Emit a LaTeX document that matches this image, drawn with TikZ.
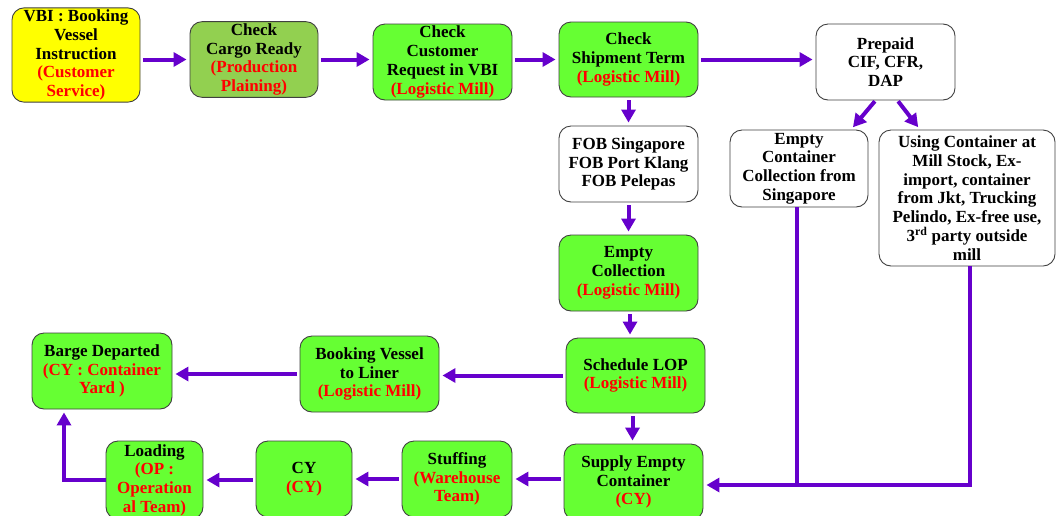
\documentclass[tikz,border=0pt]{standalone}
\usepackage{fontspec}
\setmainfont{Liberation Serif}
\usetikzlibrary{arrows.meta}
\definecolor{boxgreen}{HTML}{66FF33}
\definecolor{boxolive}{HTML}{92D050}
\definecolor{boxyellow}{HTML}{FFFF00}
\definecolor{arrowpurple}{HTML}{6600CC}
\definecolor{txtred}{HTML}{FF0000}
\definecolor{edgegray}{HTML}{404040}
\newcommand{\rd}[1]{\textcolor{txtred}{#1}}
\tikzset{
  flowbox/.style={draw=edgegray, line width=0.9pt, rounded corners=12pt, align=center,
    inner sep=2pt, font=\fontsize{17}{18.7}\selectfont\bfseries},
  greenbox/.style={flowbox, fill=boxgreen},
  whitebox/.style={flowbox, fill=white},
  arr/.style={draw=arrowpurple, line width=4pt, -{Triangle[length=13pt,width=14pt]}, shorten <=3pt, shorten >=3pt},
  pline/.style={draw=arrowpurple, line width=4pt}
}
\begin{document}
\begin{tikzpicture}[x=1pt,y=-1pt]
\useasboundingbox (0,0) rectangle (1056,515);
\clip (0,0) rectangle (1056,515);
\fill[white] (0,0) rectangle (1056,515);

% top row
\node[flowbox, fill=boxyellow, minimum width=128pt, minimum height=91pt] (vbi) at (76,55)
  {VBI : Booking\\Vessel\\Instruction\\\rd{(Customer}\\\rd{Service)}};
\node[flowbox, fill=boxolive, minimum width=128pt, minimum height=75pt] (cargo) at (254,59.5)
  {Check\\Cargo Ready\\\rd{(Production}\\\rd{Plaining)}};
\node[greenbox, minimum width=139pt, minimum height=76pt] (cust) at (442.5,62)
  {Check\\Customer\\Request in VBI\\\rd{(Logistic Mill)}};
\node[greenbox, minimum width=139pt, minimum height=75pt] (ship) at (628.5,59.5)
  {Check\\Shipment Term\\\rd{(Logistic Mill)}};
\node[whitebox, minimum width=139pt, minimum height=76pt] (prep) at (885.5,62)
  {Prepaid\\CIF, CFR,\\DAP};

% second row
\node[whitebox, minimum width=139pt, minimum height=76pt] (fob) at (628.5,164)
  {FOB Singapore\\FOB Port Klang\\FOB Pelepas};
\node[whitebox, minimum width=138pt, minimum height=77pt] (ecs) at (799,168.5)
  {Empty\\Container\\Collection from\\Singapore};
\node[whitebox, minimum width=176pt, minimum height=136pt] (using) at (967,198)
  {Using Container at\\Mill Stock, Ex-\\import, container\\from Jkt, Trucking\\Pelindo, Ex-free use,\\3\textsuperscript{rd} party outside\\mill};

\node[greenbox, minimum width=139pt, minimum height=76pt] (ecoll) at (628.5,273)
  {Empty\\Collection\\\rd{(Logistic Mill)}};

% third row
\node[greenbox, minimum width=139pt, minimum height=75pt] (lop) at (635.5,375.5)
  {Schedule LOP\\\rd{(Logistic Mill)}};
\node[greenbox, minimum width=139pt, minimum height=76pt] (book) at (369.5,374)
  {Booking Vessel\\to Liner\\\rd{(Logistic Mill)}};
\node[greenbox, minimum width=140pt, minimum height=76pt] (barge) at (102,371)
  {Barge Departed\\\rd{(CY : Container}\\\rd{Yard )}};

% bottom row
\node[greenbox, minimum width=139pt, minimum height=76pt] (supply) at (633.5,482)
  {Supply Empty\\Container\\\rd{(CY)}};
\node[greenbox, minimum width=110pt, minimum height=76pt] (stuff) at (457,479)
  {Stuffing\\\rd{(Warehouse}\\\rd{Team)}};
\node[greenbox, minimum width=96pt, minimum height=76pt] (cy) at (304,479)
  {CY\\\rd{(CY)}};
\node[greenbox, minimum width=97pt, minimum height=78pt] (load) at (154.5,480)
  {Loading\\\rd{(OP :}\\\rd{Operation}\\\rd{al Team)}};

% connectors
\draw[arr] (vbi.east |- cargo.west) -- (cargo.west);
\draw[arr] (cargo.east) -- (cargo.east -| cust.west);
\draw[arr] (cust.east |- ship.west) -- (ship.west);
\draw[arr] (ship.east) -- (ship.east -| prep.west);
\draw[arr] (ship.south) -- (fob.north);
\draw[arr] (fob.south) -- (ecoll.north);
\draw[arr] ([xshift=1.5pt]ecoll.south) -- ([xshift=1.5pt]ecoll.south |- lop.north);
\draw[arr, shorten <=1pt] ([xshift=-10pt]prep.south) -- ([xshift=52pt]ecs.north);
\draw[arr, shorten <=1pt] ([xshift=12pt]prep.south) -- ([xshift=-47pt]using.north);
\draw[arr] (lop.west) -- (lop.west -| book.east);
\draw[arr] (book.west) -- (book.west -| barge.east);
\draw[arr] ([xshift=-3pt]lop.south) -- ([xshift=-3pt]lop.south |- supply.north);
\draw[arr] (supply.west |- stuff.east) -- (stuff.east);
\draw[arr] (stuff.west |- cy.east) -- (cy.east);
\draw[arr] (cy.west |- load.east) -- (load.east);
\draw[arr, shorten <=0pt] (load.west) -| ([xshift=-38pt]barge.south);
\coordinate (j) at (797,487);
\draw[pline] ([xshift=-2pt]ecs.south) -- ([xshift=-2pt]ecs.south |- j);
\draw[arr, shorten <=0pt] ([xshift=3pt]using.south) |- ([yshift=-3pt]supply.east);
\end{tikzpicture}
\end{document}
